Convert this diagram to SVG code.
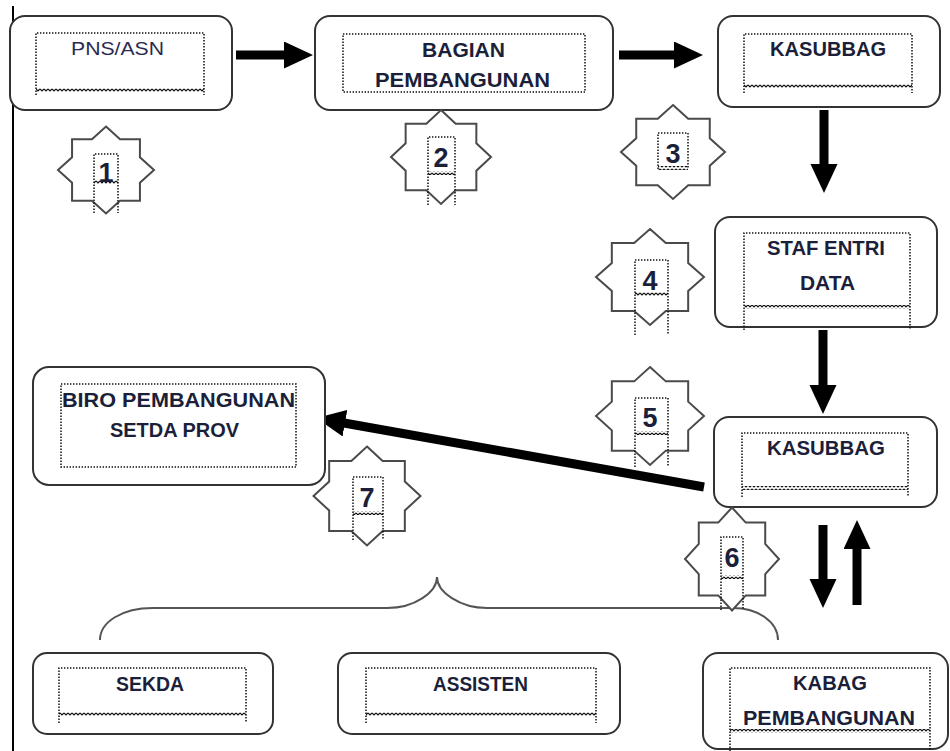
<svg xmlns="http://www.w3.org/2000/svg" xmlns:xlink="http://www.w3.org/1999/xlink" width="950" height="751" viewBox="0 0 950 751">
<style>
.box{fill:#fff;stroke:#333;stroke-width:2}
.dot{fill:none;stroke:#111;stroke-width:1.5;stroke-dasharray:1.4 1.6}
.wave{fill:url(#wave);stroke:none}
.star{fill:#fff;stroke:#4a4a4a;stroke-width:2}
.t{font-family:"Liberation Sans",Arial,sans-serif;font-weight:bold;font-size:21px;fill:#1c1f3a}
.r{font-weight:normal;font-size:19px;fill:#2a2a50}
.n{font-size:27px;text-anchor:middle}
.conn{fill:none;stroke:#000;stroke-width:9;marker-end:url(#ah)}
.brace{fill:none;stroke:#555;stroke-width:2}
</style>
<defs>
<marker id="ah" markerUnits="userSpaceOnUse" markerWidth="30" markerHeight="28" refX="1" refY="13.5" orient="auto">
<path d="M0,0 L29,13.5 L0,27 Z" fill="#000"/>
</marker>
<pattern id="wave" patternUnits="userSpaceOnUse" width="4" height="4">
<path d="M0,1 L2,3 L4,1" fill="none" stroke="#111" stroke-width="1.2"/>
</pattern>
<polygon id="star8" vector-effect="non-scaling-stroke" points="0,-50 14.64,-35.34 35.36,-35.36 35.34,-14.64 50,0 35.34,14.64 35.36,35.36 14.64,35.34 0,50 -14.64,35.34 -35.36,35.36 -35.34,14.64 -50,0 -35.34,-14.64 -35.36,-35.36 -14.64,-35.34"/>
</defs>
<rect width="950" height="751" fill="#fff"/>
<line x1="13" y1="6" x2="13" y2="751" stroke="#000" stroke-width="2"/>

<g id="brace">
<path class="brace" d="M100,640 C100,622 122,608 153,608 L387,608 C415,608 437,592 437,577 C437,592 460,608 487,608 L733,608 C758,608 778,622 778,640"/>
</g>

<g id="connectors">
<path class="conn" d="M236,55 L285,55"/>
<path class="conn" d="M619,55 L675,55"/>
<path class="conn" d="M824,110 L824,165"/>
<path class="conn" d="M823,330 L823,386"/>
<path class="conn" d="M704,487 L344,423"/>
<path class="conn" d="M823,525 L823,580"/>
<path class="conn" d="M857,605 L857,548"/>
</g>

<g id="node-pns">
<rect class="box" x="10" y="16" width="222" height="94" rx="15"/>
<path class="dot" d="M36,95 L36,33 L204,33 L204,95"/>
<rect class="wave" x="36" y="88" width="168" height="4"/>
<text class="t r" x="71" y="55" textLength="93" lengthAdjust="spacingAndGlyphs">PNS/ASN</text>
</g>

<g id="node-bagian">
<rect class="box" x="315" y="16" width="298" height="94" rx="15"/>
<rect class="dot" x="343" y="34" width="242" height="58"/>
<text class="t" x="422" y="57" textLength="83" lengthAdjust="spacingAndGlyphs">BAGIAN</text>
<text class="t" x="375" y="87" textLength="175" lengthAdjust="spacingAndGlyphs">PEMBANGUNAN</text>
</g>

<g id="node-kasubbag1">
<rect class="box" x="718" y="16" width="222" height="91" rx="15"/>
<path class="dot" d="M744,93 L744,34 L912,34 L912,93"/>
<rect class="wave" x="744" y="84" width="168" height="4"/>
<text class="t" x="770" y="56" textLength="116" lengthAdjust="spacingAndGlyphs">KASUBBAG</text>
</g>

<g id="node-staf">
<rect class="box" x="715" y="217" width="222" height="110" rx="15"/>
<path class="dot" d="M744,330 L744,233 L910,233 L910,330"/>
<rect class="wave" x="744" y="305" width="166" height="4"/>
<text class="t" x="767" y="255" textLength="118" lengthAdjust="spacingAndGlyphs">STAF ENTRI</text>
<text class="t" x="800" y="290" textLength="55" lengthAdjust="spacingAndGlyphs">DATA</text>
</g>

<g id="node-kasubbag2">
<rect class="box" x="714" y="417" width="223" height="90" rx="15"/>
<path class="dot" d="M742,497 L742,433 L908,433 L908,497"/>
<rect class="wave" x="742" y="486" width="166" height="4"/>
<text class="t" x="767" y="455" textLength="118" lengthAdjust="spacingAndGlyphs">KASUBBAG</text>
</g>

<g id="node-biro">
<rect class="box" x="33" y="367" width="292" height="118" rx="16"/>
<rect class="dot" x="61" y="384" width="235" height="83"/>
<text class="t" x="62" y="407" textLength="233" lengthAdjust="spacingAndGlyphs">BIRO PEMBANGUNAN</text>
<text class="t" x="110" y="437" textLength="129" lengthAdjust="spacingAndGlyphs">SETDA PROV</text>
</g>

<g id="node-sekda">
<rect class="box" x="33" y="653" width="240" height="81" rx="14"/>
<path class="dot" d="M59,723 L59,668 L246,668 L246,723"/>
<rect class="wave" x="59" y="712" width="187" height="4"/>
<text class="t" x="116" y="691" textLength="68" lengthAdjust="spacingAndGlyphs">SEKDA</text>
</g>

<g id="node-assisten">
<rect class="box" x="338" y="653" width="282" height="81" rx="14"/>
<path class="dot" d="M366,723 L366,668 L596,668 L596,723"/>
<rect class="wave" x="366" y="712" width="230" height="4"/>
<text class="t" x="433" y="691" textLength="95" lengthAdjust="spacingAndGlyphs">ASSISTEN</text>
</g>

<g id="node-kabag">
<rect class="box" x="703" y="653" width="245" height="96" rx="15"/>
<path class="dot" d="M730,751 L730,668 L930,668 L930,751"/>
<rect class="wave" x="730" y="729" width="200" height="4"/>
<text class="t" x="793" y="690" textLength="74" lengthAdjust="spacingAndGlyphs">KABAG</text>
<text class="t" x="743" y="725" textLength="172" lengthAdjust="spacingAndGlyphs">PEMBANGUNAN</text>
</g>

<g id="step-1">
<use xlink:href="#star8" class="star" transform="translate(106,170) scale(0.96,0.87)"/>
<path class="dot" d="M94,213 L94,154 L118,154 L118,213"/>
<rect class="wave" x="94" y="180" width="24" height="4"/>
<text class="t n" x="106" y="182">1</text>
</g>

<g id="step-2">
<use xlink:href="#star8" class="star" transform="translate(441,157) scale(1,0.94)"/>
<path class="dot" d="M428,205 L428,137 L455,137 L455,205"/>
<rect class="wave" x="428" y="171" width="27" height="4"/>
<text class="t n" x="441" y="167">2</text>
</g>

<g id="step-3">
<use xlink:href="#star8" class="star" transform="translate(673,152) scale(1.04,0.94)"/>
<path class="dot" d="M658,169 L658,133 L688,133 L688,169"/>
<rect class="wave" x="658" y="166" width="30" height="4"/>
<text class="t n" x="673" y="163">3</text>
</g>

<g id="step-4">
<use xlink:href="#star8" class="star" transform="translate(650,277) scale(1.08,0.96)"/>
<path class="dot" d="M635,335 L635,260 L668,260 L668,335"/>
<rect class="wave" x="635" y="292" width="33" height="4"/>
<text class="t n" x="650" y="290">4</text>
</g>

<g id="step-5">
<use xlink:href="#star8" class="star" transform="translate(650,416) scale(1.08,0.98)"/>
<path class="dot" d="M635,467 L635,398 L668,398 L668,467"/>
<rect class="wave" x="635" y="431" width="33" height="4"/>
<text class="t n" x="650" y="427">5</text>
</g>

<g id="step-6">
<use xlink:href="#star8" class="star" transform="translate(732,559) scale(0.94,1.03)"/>
<path class="dot" d="M721,610 L721,537 L743,537 L743,610"/>
<rect class="wave" x="721" y="575" width="22" height="4"/>
<text class="t n" x="732" y="567">6</text>
</g>

<g id="step-7">
<use xlink:href="#star8" class="star" transform="translate(367,496) scale(1.07,0.99)"/>
<path class="dot" d="M353,540 L353,477 L383,477 L383,540"/>
<rect class="wave" x="353" y="511" width="30" height="4"/>
<text class="t n" x="367" y="507">7</text>
</g>
</svg>
